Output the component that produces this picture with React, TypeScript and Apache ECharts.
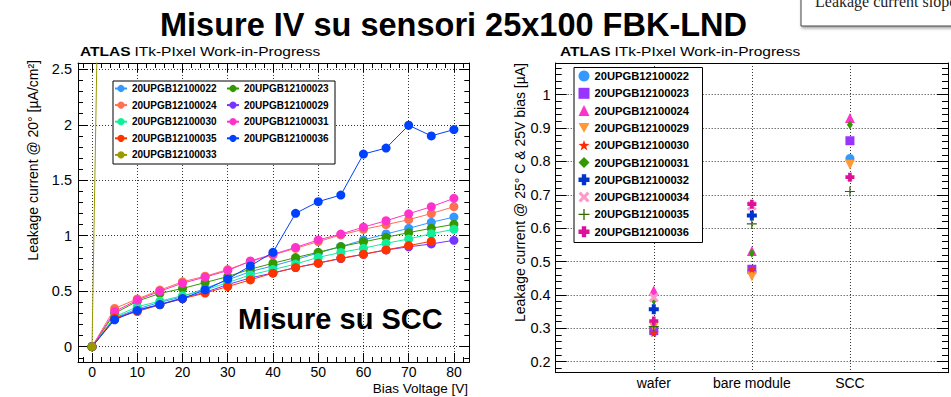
import React, { useEffect, useRef } from "react";
import * as echarts from "echarts";

const FONT = '"Liberation Sans", Arial, Helvetica, sans-serif';

// ---------- Left chart: IV curves ----------
const voltages = [0, 5, 10, 15, 20, 25, 30, 35, 40, 45, 50, 55, 60, 65, 70, 75, 80];
const iv22 = [0, 0.26, 0.34, 0.4, 0.45, 0.525, 0.602, 0.677, 0.728, 0.785, 0.845, 0.902, 0.962, 1.016, 1.067, 1.121, 1.168];
const iv23 = [0, 0.3, 0.41, 0.48, 0.525, 0.578, 0.632, 0.699, 0.752, 0.803, 0.851, 0.902, 0.945, 0.986, 1.028, 1.067, 1.103];
const iv24 = [0, 0.345, 0.43, 0.51, 0.585, 0.635, 0.695, 0.767, 0.827, 0.887, 0.947, 1.007, 1.058, 1.1, 1.145, 1.2, 1.262];
const iv29 = [0, 0.25, 0.33, 0.38, 0.44, 0.49, 0.56, 0.62, 0.665, 0.713, 0.755, 0.794, 0.833, 0.872, 0.9, 0.926, 0.959];
const iv30 = [0, 0.27, 0.36, 0.41, 0.46, 0.51, 0.578, 0.647, 0.695, 0.745, 0.805, 0.85, 0.887, 0.932, 0.971, 1.018, 1.058];
const iv31 = [0, 0.317, 0.42, 0.5, 0.572, 0.627, 0.686, 0.773, 0.833, 0.895, 0.962, 1.015, 1.078, 1.135, 1.198, 1.262, 1.337];
const iv35 = [0, 0.258, 0.317, 0.378, 0.432, 0.483, 0.542, 0.602, 0.663, 0.713, 0.752, 0.797, 0.833, 0.872, 0.911, 0.95];
const iv36 = [0, 0.243, 0.327, 0.38, 0.434, 0.512, 0.609, 0.728, 0.851, 1.202, 1.307, 1.367, 1.736, 1.79, 1.996, 1.9, 1.957];
const iv33V = [0, 1.2];
const iv33 = [0, 2.9];

const ivNames = [
  "20UPGB12100022", "20UPGB12100023", "20UPGB12100024", "20UPGB12100029",
  "20UPGB12100030", "20UPGB12100031", "20UPGB12100035", "20UPGB12100036", "20UPGB12100033",
];
const ivColors = ["#3399ff", "#339900", "#ff7050", "#7733ff", "#11ee99", "#ff33cc", "#ff3300", "#0040ff", "#999900"];
const ivValues = [iv22, iv23, iv24, iv29, iv30, iv31, iv35, iv36];
const legendCol1 = ["20UPGB12100022", "20UPGB12100024", "20UPGB12100030", "20UPGB12100035", "20UPGB12100033"];
const legendCol2 = ["20UPGB12100023", "20UPGB12100029", "20UPGB12100031", "20UPGB12100036"];
const ivXTicks = [0, 10, 20, 30, 40, 50, 60, 70, 80];

// ---------- Right chart: leakage per stage ----------
const stages = ["wafer", "bare module", "SCC"];
const lkNames = [
  "20UPGB12100022", "20UPGB12100023", "20UPGB12100024", "20UPGB12100029", "20UPGB12100030",
  "20UPGB12100031", "20UPGB12100032", "20UPGB12100034", "20UPGB12100035", "20UPGB12100036",
];
const lk22 = [0.29, 0.47, 0.809];
const lk23 = [0.293, 0.477, 0.862];
const lk24 = [0.413, 0.532, 0.93];
const lk29 = [0.305, 0.455, 0.79];
const lk30 = [0.285, 0.477, 0.753];
const lk31 = [0.383, 0.525, 0.91];
const lk32 = [0.357, 0.638, null];
const lk34 = [0.392, 0.667, null];
const lk35 = [0.305, 0.613, 0.71];
const lk36 = [0.322, 0.672, 0.753];
const lkValues = [lk22, lk23, lk24, lk29, lk30, lk31, lk32, lk34, lk35, lk36];

const CROSS = "path://M3,0H7V3H10V7H7V10H3V7H0V3H3Z";
const XCROSS = "path://M0,2L2,0L5,3L8,0L10,2L7,5L10,8L8,10L5,7L2,10L0,8L3,5Z";
const THINPLUS = "path://M4.4,0H5.6V4.4H10V5.6H5.6V10H4.4V5.6H0V4.4H4.4Z";
const STAR = "path://M5,0L6.2,3.5L10,3.6L7,5.9L8.1,9.5L5,7.4L1.9,9.5L3,5.9L0,3.6L3.8,3.5Z";
const TRIDOWN = "path://M0,0L10,0L5,9Z";
const lkStyles = [
  { symbol: "circle", size: 9, color: "#3399ff" },
  { symbol: "rect", size: 9, color: "#9933ff" },
  { symbol: "triangle", size: 10, color: "#ff33cc" },
  { symbol: TRIDOWN, size: 10, color: "#ff9933" },
  { symbol: STAR, size: 8, color: "#ff2a00" },
  { symbol: "diamond", size: [6, 9], color: "#339900" },
  { symbol: CROSS, size: 10, color: "#0033cc" },
  { symbol: XCROSS, size: 10, color: "#ff99cc" },
  { symbol: THINPLUS, size: 10, color: "#336600" },
  { symbol: CROSS, size: 9, color: "#dd1199" },
];

const black = "#000";
const frame = { show: true, onZero: false, lineStyle: { color: black, width: 1 } };
const dotted = { show: true, lineStyle: { color: "#333", type: [1, 2], width: 1 } };

function buildOption() {
  const ivSeries: any[] = ivValues.map((arr, k) => ({
    type: "line",
    name: ivNames[k],
    xAxisIndex: 0,
    yAxisIndex: 0,
    data: arr.map((v, i) => [voltages[i], v]),
    symbol: "circle",
    symbolSize: 9,
    showSymbol: true,
    lineStyle: { width: 1, color: ivColors[k] },
    itemStyle: { color: ivColors[k] },
    clip: true,
    z: 2 + k * 0.01,
  }));
  ivSeries.push({
    type: "line",
    name: ivNames[8],
    xAxisIndex: 0,
    yAxisIndex: 0,
    data: iv33.map((v, i) => [iv33V[i], v]),
    symbol: "circle",
    symbolSize: 9,
    lineStyle: { width: 1, color: ivColors[8] },
    itemStyle: { color: ivColors[8] },
    clip: true,
    z: 3,
  });

  const lkSeries = lkValues.map((arr, k) => ({
    type: "scatter",
    name: "R:" + lkNames[k],
    xAxisIndex: 2,
    yAxisIndex: 2,
    data: arr.map((v, i) => (v == null ? null : [i, v])).filter((d) => d !== null),
    symbol: lkStyles[k].symbol,
    symbolSize: lkStyles[k].size,
    itemStyle: { color: lkStyles[k].color, opacity: 1 },
    clip: true,
    z: 3,
  }));

  const ivYFmt = (v: number) => {
    const r = Math.round(v * 2) / 2;
    return Math.abs(v - r) < 1e-6 ? String(r) : "";
  };
  const ivXFmt = (v: number) => (ivXTicks.some((t) => Math.abs(t - v) < 1e-6) ? String(Math.round(v)) : "");
  const lkYFmt = (v: number) => {
    const r = Math.round(v * 10) / 10;
    return Math.abs(v - r) < 1e-6 && r >= 0.2 ? String(r) : "";
  };
  const lkXFmt = (v: number) => {
    const r = Math.round(v);
    return Math.abs(v - r) < 1e-6 && stages[r] ? stages[r] : "";
  };

  const labelStyle = { color: black, fontSize: 14.5, fontFamily: FONT };
  const tickIn = (len: number) => ({ show: true, inside: true, length: len, lineStyle: { color: black, width: 1 } });
  const minor = (n: number, len: number) => ({ show: true, splitNumber: n, length: len, lineStyle: { color: black, width: 1 } });

  const ivX = { type: "value", min: -3.1, max: 83.4, splitNumber: 8 };
  const ivY = { type: "value", min: -0.138, max: 2.557, splitNumber: 5 };
  const lkX = { type: "value", min: -1, max: 3, interval: 1 };
  const lkY = { type: "value", min: 0.167, max: 1.095, splitNumber: 9 };

  const legendText = { fontSize: 10, fontWeight: "bold", lineHeight: 10, color: black, fontFamily: FONT };

  return {
    animation: false,
    backgroundColor: "#fff",
    grid: [
      { left: 78, top: 63, width: 391.3, height: 299 },
      { left: 555.7, top: 63, width: 394.3, height: 309.7 },
    ],
    xAxis: [
      {
        ...ivX, gridIndex: 0, position: "bottom",
        axisLine: frame, axisTick: tickIn(9), minorTick: minor(5, 5), splitLine: dotted,
        axisLabel: { ...labelStyle, fontSize: 14, lineHeight: 14, margin: 3, formatter: ivXFmt },
      },
      {
        ...ivX, gridIndex: 0, position: "top",
        axisLine: frame, axisTick: tickIn(9), minorTick: minor(5, 5), splitLine: { show: false },
        axisLabel: { show: false },
      },
      {
        ...lkX, gridIndex: 1, position: "bottom",
        axisLine: frame, axisTick: { show: false }, splitLine: dotted,
        axisLabel: { ...labelStyle, fontSize: 14, margin: 3, formatter: lkXFmt },
      },
      {
        ...lkX, gridIndex: 1, position: "top",
        axisLine: frame, axisTick: { show: false }, splitLine: { show: false },
        axisLabel: { show: false },
      },
    ],
    yAxis: [
      {
        ...ivY, gridIndex: 0, position: "left",
        axisLine: frame, axisTick: tickIn(10), minorTick: minor(5, 5), splitLine: dotted,
        axisLabel: { ...labelStyle, margin: 6, formatter: ivYFmt },
      },
      {
        ...ivY, gridIndex: 0, position: "right",
        axisLine: frame, axisTick: tickIn(10), minorTick: minor(5, 5), splitLine: { show: false },
        axisLabel: { show: false },
      },
      {
        ...lkY, gridIndex: 1, position: "left",
        axisLine: frame, axisTick: tickIn(11), minorTick: minor(5, 6), splitLine: dotted,
        axisLabel: { ...labelStyle, margin: 5, formatter: lkYFmt },
      },
      {
        ...lkY, gridIndex: 1, position: "right",
        axisLine: frame, axisTick: tickIn(11), minorTick: minor(5, 6), splitLine: { show: false },
        axisLabel: { show: false },
      },
    ],
    legend: [
      {
        data: legendCol1, left: 114, top: 83.5, orient: "vertical", selectedMode: false,
        itemWidth: 12, itemHeight: 9, itemGap: 6.6, padding: 0, z: 20,
        textStyle: legendText,
      },
      {
        data: legendCol2, left: 226, top: 83.5, orient: "vertical", selectedMode: false,
        itemWidth: 12, itemHeight: 9, itemGap: 6.6, padding: 0, z: 20,
        textStyle: legendText,
      },
      {
        data: lkNames.map((n) => "R:" + n), left: 578.5, top: 70.5, orient: "vertical", selectedMode: false,
        itemWidth: 11, itemHeight: 11, itemGap: 6.3, padding: 0, z: 20,
        formatter: (n: string) => n.slice(2),
        textStyle: { fontSize: 11.2, fontWeight: "bold", lineHeight: 11, color: black, fontFamily: FONT },
      },
    ],
    graphic: [
      {
        type: "text", x: 453.5, y: 24.5, z: 30,
        style: {
          text: "Misure IV su sensori 25x100 FBK-LND", fontSize: 32.5, fontWeight: "bold",
          fontFamily: FONT, fill: black, align: "center", verticalAlign: "middle",
        },
      },
      {
        type: "text", x: 80, y: 51.5, scaleX: 1.15, z: 30,
        style: {
          text: "{a|ATLAS} {b|ITk-PIxel Work-in-Progress}", verticalAlign: "middle",
          rich: {
            a: { fontSize: 13.5, fontWeight: "bold", fontFamily: FONT, fill: black },
            b: { fontSize: 13.5, fontFamily: FONT, fill: black },
          },
        },
      },
      {
        type: "text", x: 560, y: 51.5, scaleX: 1.15, z: 30,
        style: {
          text: "{a|ATLAS} {b|ITk-PIxel Work-in-Progress}", verticalAlign: "middle",
          rich: {
            a: { fontSize: 13.5, fontWeight: "bold", fontFamily: FONT, fill: black },
            b: { fontSize: 13.5, fontFamily: FONT, fill: black },
          },
        },
      },
      {
        type: "text", x: 238, y: 318.5, z: 30,
        style: {
          text: "Misure su SCC", fontSize: 29, fontWeight: "bold", fontFamily: FONT,
          fill: black, verticalAlign: "middle",
        },
      },
      {
        type: "text", x: 33, y: 60, rotation: Math.PI / 2, z: 30,
        style: {
          text: "Leakage current @ 20\u00b0 [\u00b5A/cm\u00b2]", fontSize: 14, fontFamily: FONT,
          fill: black, align: "right", verticalAlign: "middle",
        },
      },
      {
        type: "text", x: 520, y: 63, rotation: Math.PI / 2, z: 30,
        style: {
          text: "Leakage current @ 25\u00b0 C & 25V bias [\u00b5A]", fontSize: 14, fontFamily: FONT,
          fill: black, align: "right", verticalAlign: "middle",
        },
      },
      {
        type: "text", x: 468, y: 388.5, z: 30,
        style: {
          text: "Bias Voltage [V]", fontSize: 13.5, lineHeight: 13.5, fontFamily: FONT,
          fill: black, align: "right", verticalAlign: "middle",
        },
      },
      {
        type: "rect", z: 15,
        shape: { x: 113, y: 81, width: 222, height: 83 },
        style: { fill: "#fff", stroke: black, lineWidth: 1 },
      },
      {
        type: "rect", z: 15,
        shape: { x: 574, y: 67.5, width: 128.5, height: 175 },
        style: { fill: "#fff", stroke: black, lineWidth: 1 },
      },
      {
        type: "rect", z: 15,
        shape: { x: 801, y: -10, width: 200, height: 36 },
        style: {
          fill: "#fff", stroke: "#444", lineWidth: 1,
          shadowBlur: 3, shadowColor: "rgba(0,0,0,0.35)", shadowOffsetX: 1, shadowOffsetY: 2,
        },
      },
      {
        type: "text", x: 815, y: 1.5, z: 30,
        style: {
          text: "Leakage current slope", fontSize: 16, fontFamily: '"Liberation Serif", "Times New Roman", serif',
          fill: "#222", verticalAlign: "middle",
        },
      },
    ],
    series: [...ivSeries, ...lkSeries],
  };
}

export default function App() {
  const ref = useRef<HTMLDivElement>(null);
  useEffect(() => {
    if (!ref.current) return;
    const chart = echarts.init(ref.current, null, { renderer: "svg" });
    chart.setOption(buildOption() as any);
    return () => chart.dispose();
  }, []);
  return (
    <div
      ref={ref}
      style={{ position: "absolute", left: 0, top: 0, width: 951, height: 397, background: "#fff" }}
    />
  );
}
